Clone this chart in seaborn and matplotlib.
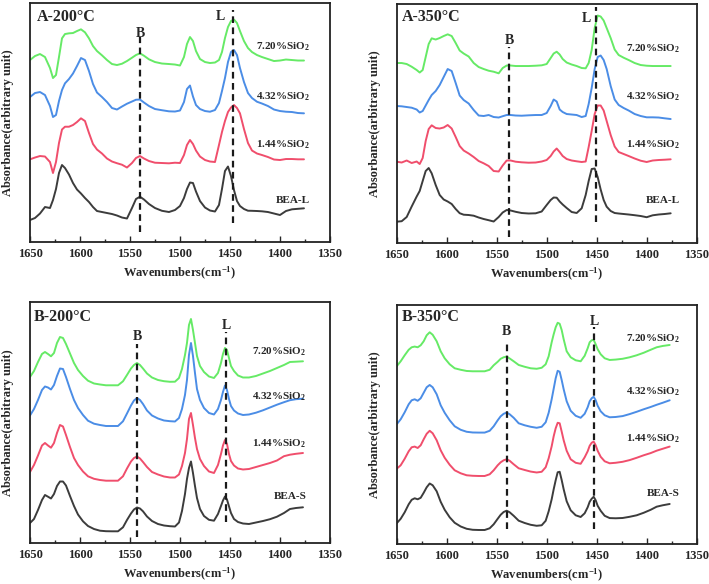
import matplotlib
matplotlib.use("Agg")
import matplotlib.pyplot as plt
import pandas as pd
import seaborn as sns
from matplotlib.ticker import MultipleLocator

sns.set_theme(style="white")
plt.rcParams["font.family"] = ["Liberation Serif", "DejaVu Serif"]
plt.rcParams["font.weight"] = "bold"
plt.rcParams["mathtext.fontset"] = "custom"
plt.rcParams["mathtext.rm"] = "Liberation Serif:bold"
plt.rcParams["mathtext.bf"] = "Liberation Serif:bold"
plt.rcParams["mathtext.it"] = "Liberation Serif:bold"

# wavenumber grids (cm-1)
wn_a = [1650, 1645, 1640, 1635, 1630, 1627, 1624, 1621, 1618, 1615, 1611, 1607, 1603, 1599, 1595, 1591,
        1587, 1583, 1578, 1573, 1568, 1563, 1558, 1553, 1548, 1544, 1540, 1536, 1531, 1525, 1518, 1511,
        1505, 1500, 1496, 1493, 1490, 1487, 1484, 1480, 1475, 1470, 1465, 1461, 1458, 1455, 1452, 1449,
        1446, 1443, 1440, 1436, 1432, 1428, 1423, 1418, 1412, 1406, 1400, 1394, 1388, 1382, 1376]
wn_b = [1650, 1646, 1642, 1638, 1635, 1632, 1629, 1626, 1623, 1620, 1617, 1614, 1610, 1606, 1602, 1597,
        1592, 1586, 1580, 1574, 1568, 1562, 1557, 1553, 1549, 1546, 1543, 1540, 1537, 1533, 1528, 1522,
        1516, 1510, 1505, 1501, 1498, 1495, 1493, 1491, 1489, 1487, 1485, 1483, 1480, 1476, 1471, 1466,
        1462, 1459, 1457, 1455, 1453, 1451, 1449, 1446, 1442, 1437, 1431, 1424, 1417, 1410, 1403, 1396,
        1390, 1384, 1377]

# A-200 (BEA-L, pyridine desorbed at 200 C), offset spectra in arbitrary units
a200_720 = [182, 186, 188, 185, 174, 164, 167, 185, 203.7, 208, 208.7, 209, 211, 212.7, 209.7, 203.7,
            196, 191, 186.7, 182, 178, 177, 178.3, 181, 184.3, 187, 188.7, 186.3, 182.7, 180, 178.5, 178,
            177.5, 176.5, 185, 198, 205, 201, 191, 183, 180, 179, 179.5, 182, 190, 204, 215, 221,
            222.5, 219, 211, 201, 194, 190, 187, 185, 183, 181, 181.5, 182.5, 182, 181.5, 181.5]
a200_432 = [145, 149, 150, 147, 136, 125, 127, 141, 152, 158.7, 163, 168.5, 176, 184, 182, 171,
            158, 149.5, 145, 140, 134, 132.5, 135.5, 138.3, 140.5, 142.3, 142.5, 139.5, 136, 133, 131.8, 130.7,
            130.5, 131.5, 140, 153, 156.5, 145.5, 137, 133, 131, 130.3, 132, 139, 151, 164, 180, 190,
            192, 187, 174, 160, 149, 144, 140.3, 138.5, 136, 132.5, 131, 130.3, 130, 129, 128.7]
a200_144 = [82.7, 84.5, 86, 85.5, 80, 69, 80, 99, 112.5, 115.3, 115.3, 117, 120, 123.7, 121, 109,
            98, 92.5, 88.5, 83.5, 80.5, 78.8, 77.3, 74.5, 79, 84, 86, 83.5, 81, 79.3, 79, 78.7,
            79.3, 79, 87, 97, 102, 98, 91.5, 85.5, 82, 80.5, 80, 97, 110, 121, 130, 134.5,
            137, 134, 128.7, 113, 99, 91.5, 88.5, 87, 85, 82.5, 82, 83, 83, 82.7, 82.7]
a200_bea = [22, 24, 28.5, 35, 34, 42, 53, 69, 77, 74, 67.5, 59, 52.5, 48.5, 44, 40,
            35, 31, 30, 29, 28, 26.5, 24.5, 23.5, 34, 43, 45.3, 42.5, 38, 34, 31.2, 30,
            32, 36, 44, 53, 59.5, 59, 50.5, 41, 34.5, 31.5, 30.5, 37, 53, 71, 75.5, 66,
            52, 41, 36, 33, 31.3, 31.2, 31, 30.7, 30, 28.5, 27, 31, 32.7, 33.2, 33.7]

# A-350
a350_720 = [180, 180, 179, 176.3, 173, 170.5, 173, 186, 199, 204.7, 203.5, 205, 207, 208.7, 207, 200,
            192.5, 189.5, 186.5, 180, 176, 174, 172.3, 171.3, 169.7, 175, 177.5, 177.5, 177, 177, 177, 177.3,
            177.7, 179, 185, 189.5, 191.3, 188.5, 184, 180.5, 178.5, 177, 175, 174.7, 180, 193, 215, 227.5,
            226.5, 222.5, 215, 205, 193.5, 188, 185.3, 183, 180, 178, 177.3, 177, 177, 177, 177]
a350_432 = [137, 136.7, 136, 135.3, 133.5, 130.5, 132, 137.5, 143, 148, 152, 158, 166, 174, 172, 160,
            147.5, 143, 139.5, 133, 127.5, 127, 128, 126, 125.5, 126.8, 128, 128, 127.5, 127.3, 127.7, 128,
            128, 130, 137, 143.5, 141.5, 133.5, 131, 129, 128.5, 128, 126, 127, 139, 155, 174, 186,
            187.5, 183, 174, 157, 143.5, 138, 135, 132.5, 129, 127, 125.7, 125.7, 125.5, 124.7, 124]
a350_144 = [81.3, 80.5, 82.5, 80, 81.5, 79, 85, 102, 114, 117.7, 115, 114.5, 115.5, 118, 114.5, 106,
            97, 92.5, 89.5, 86, 82, 79.7, 77, 72, 71.5, 77.5, 82.5, 82.5, 81.3, 80.7, 80.3, 80.5,
            81.5, 83, 87, 91.5, 94.5, 91, 87, 84, 82.5, 81.7, 81, 81.5, 96, 112, 129, 137.5,
            137.5, 132.5, 122, 108, 96.5, 91, 89, 87, 84.5, 82.3, 81, 82.5, 83, 83.3, 83.7]
a350_bea = [21.3, 21.8, 26, 36.5, 46.5, 52, 62, 72, 75, 69.7, 58, 48, 43.5, 41.5, 39, 34,
            29.8, 28.3, 28, 27.3, 25.5, 24, 22.8, 21.5, 26, 30.5, 33, 32.5, 31.2, 30, 29.5, 29.7,
            31.5, 38, 43, 45.5, 45.3, 41.5, 38.5, 35, 31, 30, 34.7, 48, 62, 74, 74.5, 66,
            53.5, 43, 36.3, 32, 30, 29.5, 29, 28.5, 27.8, 27, 25.8, 27.7, 28.5, 29, 29.7]

# B-200 (BEA-S)
b200_720 = [166, 172, 181, 189, 191, 189, 186.7, 190, 200, 206, 205, 199, 189.5, 180, 173, 167,
            162.3, 159.5, 158.5, 157.7, 157.7, 157.7, 161.7, 168, 174.5, 178, 180, 178, 174.5, 169.5, 165.5, 163,
            161.8, 161.2, 161.3, 165, 174, 188, 200, 218, 224, 213, 200, 187, 177, 171, 166.5, 165,
            170, 180, 189, 195, 193, 185, 177, 172, 167.5, 165.5, 165.5, 167, 169.5, 172, 175, 178,
            181, 181.3, 181.7]
b200_432 = [127.5, 134, 143, 153, 156.5, 155.5, 153.5, 158, 167, 174.5, 174, 166, 154, 143, 135, 128,
            122.3, 119.3, 118, 117, 117, 117, 121.7, 129.5, 137.5, 142.5, 145, 143, 139, 132.5, 127.5, 124.5,
            122.5, 121.8, 121.5, 125, 134, 148, 163, 188, 200, 187, 170, 154, 143, 135, 130, 128.5,
            134, 143, 151, 157.5, 153, 144, 137, 132.5, 129.5, 128, 128.5, 130.3, 132.7, 135.5, 138.3, 140.8,
            142.8, 143.8, 144.3]
b200_144 = [71, 78, 87.5, 97.5, 100, 97.5, 95.3, 100, 110, 118, 116.5, 108, 96, 85, 78, 71.5,
            66.7, 64.2, 63, 62.3, 62.3, 62.3, 66.7, 74.5, 81.5, 85, 86.5, 84.5, 81, 76, 71, 68.5,
            66.5, 65.5, 65.5, 68.5, 77, 90, 104, 124, 130, 118, 105, 94, 84, 77, 71.5, 70,
            78, 89, 97.5, 103, 99, 89, 82, 77.5, 74.5, 73.5, 74, 76, 78, 80, 82.5, 86.8,
            88.3, 89.2, 90]
b200_bea = [20, 24, 33, 43, 48, 46.3, 44.5, 49, 57, 61.5, 61.5, 57.5, 47, 37, 28.5, 21.7,
            17, 14, 12.3, 11.8, 11.7, 11.7, 15.7, 23, 29.5, 33.5, 35.5, 34.5, 31.7, 26.5, 22, 19,
            17.5, 16.8, 16.5, 20.5, 32, 49, 64, 75, 81.5, 70, 57, 45, 34, 27, 23.2, 22.3,
            29, 37, 42.5, 46.5, 43.5, 36.7, 30, 24, 21, 19.5, 19, 20.5, 22, 23.8, 26.3, 30,
            34, 35, 35.7]

# B-350
b350_720 = [178, 183, 189, 194.5, 197, 197.7, 197, 199, 203, 209, 212, 209.5, 203, 193, 186, 180,
            176, 174.5, 173.3, 173, 173, 173, 174.5, 179, 182.5, 185.5, 187, 187.7, 185.8, 183, 179.3, 177.5,
            176, 175.5, 176.5, 180, 188, 202, 210, 217, 221.5, 220.5, 214.3, 205, 193, 187, 184, 183,
            188.5, 196, 202, 204, 204.3, 200, 195, 190, 186, 184.3, 184.7, 185.5, 187, 189, 191.5, 194.5,
            197, 198.3, 199.3]
b350_432 = [120, 125, 132, 140, 144, 145, 143.5, 146, 151.5, 157, 159.3, 157, 150, 139, 131.5, 124,
            118, 114.5, 112.5, 111.8, 111.7, 111.7, 113.5, 118, 124, 128, 130.5, 131.7, 130, 126.5, 121, 119,
            117.5, 116.5, 117.5, 122, 131.5, 145, 155.5, 166, 173.5, 172.5, 164.3, 155, 143, 133.5, 128.5, 126.5,
            130.5, 137, 143, 146, 147.5, 144, 138.5, 133, 129, 127, 127.3, 128.2, 130.2, 132.5, 135, 137.3,
            139.5, 141.5, 144]
b350_144 = [75.5, 79, 85.5, 93, 97, 97.7, 96.3, 99, 105, 110.5, 113.5, 111, 104, 94, 86.5, 79.5,
            74, 71, 69, 68.5, 68.3, 68.3, 70, 74, 79, 82, 84, 85, 83.5, 80, 76, 74.3,
            72.7, 71.8, 72.5, 77, 86, 98, 108, 116, 121.5, 121, 112.7, 104, 93.5, 85, 81.5, 80.5,
            87, 93, 98.5, 101.5, 102.7, 99, 93.5, 87.5, 83, 81, 81.5, 82.5, 84.2, 86.5, 89, 91.2,
            93.6, 95.5, 97.7]
b350_bea = [21, 25.5, 32, 40, 44.5, 46, 45, 46.5, 51.5, 57, 60.8, 59, 53, 42.5, 34.5, 27,
            21.5, 17.8, 15.5, 14.5, 14.3, 14.3, 16, 20, 25.5, 29.5, 32.3, 33.6, 32, 28.5, 23.6, 21.3,
            19.5, 18.5, 19, 23.5, 33, 45, 55, 64, 72, 72.5, 64.3, 55, 43, 34, 29, 27.3,
            31, 37, 42.5, 45.5, 47.5, 44, 38.5, 33.5, 28.5, 26.2, 26, 26.3, 27.5, 29, 31.5, 34.5,
            37.6, 39, 40.3]

samples = ["7.20%SiO$_2$", "4.32%SiO$_2$", "1.44%SiO$_2$"]
colors = ["#66ea66", "#4b8de6", "#f04e6c", "#3c3c3c"]

# Broensted (B) and Lewis (L) band positions marked in each panel
b_band = [1540, 1537.7, 1542.7, 1540]
l_band = [1446.7, 1450.7, 1454, 1452.7]

panels = [
    dict(title="A-200°C", wn=wn_a, ys=[a200_720, a200_432, a200_144, a200_bea], parent="BEA-L",
         rect=[0.0423, 0.5856, 0.4231, 0.4092], ylim=239,
         lab_h=[195.3, 145.3, 97.7, 42], lab_x=1370,
         b=(b_band[0], 10, 205, 209), l=(l_band[0], 19, 232, 1460, 226), tpos=(0.022, 0.943)),
    dict(title="A-350°C", wn=wn_a, ys=[a350_720, a350_432, a350_144, a350_bea], parent="BEA-L",
         rect=[0.5595, 0.5839, 0.4231, 0.4092], ylim=239,
         lab_h=[194.7, 146.3, 98, 43], lab_x=1366.7,
         b=(b_band[1], 6, 196, 203), l=(l_band[1], 21, 236, 1460, 224.7), tpos=(0.017, 0.947)),
    dict(title="B-200°C", wn=wn_b, ys=[b200_720, b200_432, b200_144, b200_bea], parent="BEA-S",
         rect=[0.0423, 0.0702, 0.4231, 0.4127], ylim=241,
         lab_h=[191, 146, 99.3, 46], lab_x=1373.3,
         b=(b_band[2], 6, 199, 206), l=(l_band[2], 21, 211, l_band[2], 217.7), tpos=(0.012, 0.938)),
    dict(title="B-350°C", wn=wn_b, ys=[b350_720, b350_432, b350_144, b350_bea], parent="BEA-S",
         rect=[0.5595, 0.0680, 0.4231, 0.4103], ylim=239.6,
         lab_h=[205.6, 153, 105.6, 50.6], lab_x=1366.7,
         b=(b_band[3], 15.6, 202.3, 212.3), l=(l_band[3], 15.6, 217.3, l_band[3], 222.3), tpos=(0.017, 0.949)),
]

fig = plt.figure(figsize=(7.09, 5.84), dpi=100)

for p in panels:
    ax = fig.add_axes(p["rect"])
    names = samples + [p["parent"]]
    df = pd.concat([pd.DataFrame({"wn": p["wn"], "absorb": y, "sample": n})
                    for y, n in zip(p["ys"], names)])
    sns.lineplot(data=df, x="wn", y="absorb", hue="sample", palette=dict(zip(names, colors)),
                 estimator=None, sort=False, legend=False, linewidth=1.4, ax=ax)
    for ln in ax.lines:
        ln.set_solid_joinstyle("round")

    bx, by0, by1, bty = p["b"]
    ax.plot([bx, bx], [by0, by1], color="#1a1a1a", lw=1.6, ls=(0, (3, 2)))
    ax.text(bx, bty, "B", ha="center", va="center", fontsize=10, fontweight="bold")
    lx, ly0, ly1, ltx, lty = p["l"]
    ax.plot([lx, lx], [ly0, ly1], color="#1a1a1a", lw=1.6, ls=(0, (3, 2)))
    ax.text(ltx, lty, "L", ha="center", va="center", fontsize=10, fontweight="bold")

    for n, h in zip(names, p["lab_h"]):
        ax.text(p["lab_x"], h, n, ha="right", va="center", fontsize=8, fontweight="bold")

    ax.text(p["tpos"][0], p["tpos"][1], p["title"], transform=ax.transAxes,
            ha="left", va="center", fontsize=11.5, fontweight="bold")

    ax.set_xlim(1650, 1350)
    ax.set_ylim(0, p["ylim"])
    ax.xaxis.set_major_locator(MultipleLocator(50))
    ax.xaxis.set_minor_locator(MultipleLocator(25))
    ax.tick_params(axis="x", which="major", direction="in", length=4, width=1, pad=4,
                   labelsize=9, bottom=True)
    ax.tick_params(axis="x", which="minor", direction="in", length=2.5, width=1, bottom=True)
    ax.set_yticks([])
    for s in ax.spines.values():
        s.set_color("#222222")
        s.set_linewidth(1.3)

    ax.set_xlabel("Wavenumbers(cm$^{-1}$)", fontsize=9, fontweight="bold")
    ax.set_ylabel("Absorbance(arbitrary unit)", fontsize=9, fontweight="bold")
    ax.xaxis.label.set_va("center")
    ax.yaxis.label.set_va("center")
    ax.xaxis.set_label_coords(0.5, -0.13)
    ax.yaxis.set_label_coords(-0.072, 0.5)
    for t in ax.get_xticklabels():
        t.set_fontweight("bold")

fig.savefig("out.png", dpi=100)
